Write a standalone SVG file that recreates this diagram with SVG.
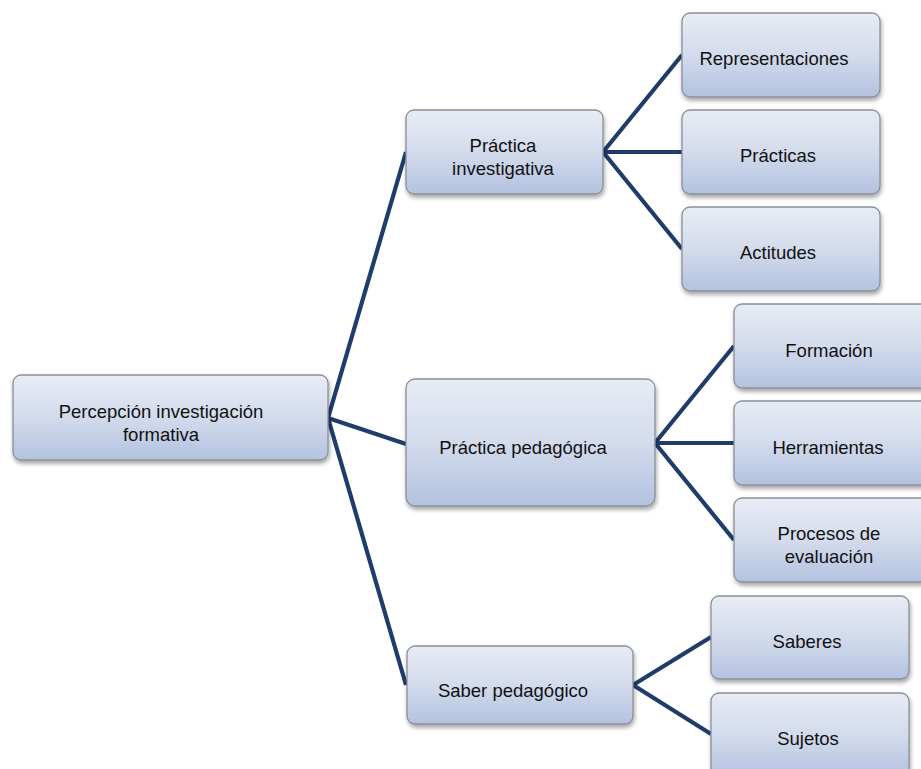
<svg xmlns="http://www.w3.org/2000/svg" width="921" height="769" viewBox="0 0 921 769">
<defs>
<linearGradient id="g" x1="0" y1="0" x2="0" y2="1">
<stop offset="0" stop-color="#E8ECF5"/>
<stop offset="0.5" stop-color="#D3DBEC"/>
<stop offset="1" stop-color="#B3C2E0"/>
</linearGradient>
<filter id="sh" x="-10%" y="-10%" width="125%" height="135%">
<feDropShadow dx="1" dy="3" stdDeviation="2" flood-color="#000" flood-opacity="0.35"/>
</filter>
</defs>
<style>
.box{fill:url(#g);stroke:#8A8E96;stroke-width:1.3;filter:url(#sh)}
.t{font-family:"Liberation Sans",Arial,sans-serif;font-size:18.5px;fill:#111;text-anchor:middle}
.c{stroke:#1F3C6B;stroke-width:4.2;fill:none;stroke-linejoin:round}
</style>
<rect width="921" height="769" fill="#fff"/>
<g id="connectors">
<path class="c" d="M406,152 L328,418 L406,444 M328,418 L406,685"/>
<path class="c" d="M682,55 L603,152 L682,249 M603,152 L682,152"/>
<path class="c" d="M734,346 L655,443 L734,540 M655,443 L734,443"/>
<path class="c" d="M711,637 L633,685 L711,734"/>
</g>
<g id="n-root"><rect class="box" x="13" y="375" width="315" height="85" rx="8"/>
<text class="t" x="161" y="418">Percepción investigación</text><text class="t" x="161" y="441">formativa</text></g>
<g id="n-pi"><rect class="box" x="406" y="110" width="197" height="84" rx="8"/>
<text class="t" x="503" y="152">Práctica</text><text class="t" x="503" y="175">investigativa</text></g>
<g id="n-rep"><rect class="box" x="682" y="13" width="198" height="84" rx="8"/>
<text class="t" x="774" y="65">Representaciones</text></g>
<g id="n-prac"><rect class="box" x="682" y="110" width="198" height="84" rx="8"/>
<text class="t" x="778" y="162">Prácticas</text></g>
<g id="n-act"><rect class="box" x="682" y="207" width="198" height="84" rx="8"/>
<text class="t" x="778" y="259">Actitudes</text></g>
<g id="n-pp"><rect class="box" x="406" y="379" width="249" height="127" rx="9"/>
<text class="t" x="523" y="454">Práctica pedagógica</text></g>
<g id="n-form"><rect class="box" x="734" y="304" width="198" height="84" rx="8"/>
<text class="t" x="829" y="357">Formación</text></g>
<g id="n-herr"><rect class="box" x="734" y="401" width="198" height="84" rx="8"/>
<text class="t" x="828" y="454">Herramientas</text></g>
<g id="n-proc"><rect class="box" x="734" y="498" width="198" height="84" rx="8"/>
<text class="t" x="829" y="540">Procesos de</text><text class="t" x="829" y="563">evaluación</text></g>
<g id="n-sp"><rect class="box" x="407" y="646" width="226" height="78" rx="8"/>
<text class="t" x="513" y="697">Saber pedagógico</text></g>
<g id="n-sab"><rect class="box" x="711" y="596" width="198" height="83" rx="8"/>
<text class="t" x="807" y="648">Saberes</text></g>
<g id="n-suj"><rect class="box" x="711" y="693" width="198" height="84" rx="8"/>
<text class="t" x="808" y="745">Sujetos</text></g>
</svg>
